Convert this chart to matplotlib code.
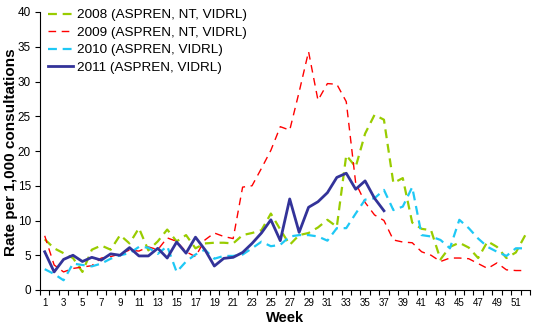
import numpy as np
import matplotlib.pyplot as plt

plt.rcParams['font.family'] = ['Liberation Sans', 'DejaVu Sans']

weeks = np.arange(1, 53)

rate_2008 = [7.3, 6.0, 5.3, 4.6, 2.6, 5.8, 6.4, 5.8, 7.9, 6.7,
             8.9, 5.7, 7.0, 8.7, 7.0, 7.9, 6.0, 6.7, 6.8, 6.8,
             6.7, 7.9, 8.2, 8.6, 11.0, 8.7, 6.5, 7.9, 8.2, 9.0,
             10.1, 9.1, 19.4, 17.7, 22.5, 25.2, 24.5, 15.4, 16.1, 9.7,
             8.8, 8.6, 4.4, 6.2, 6.8, 6.1, 4.6, 7.0, 6.2, 4.6,
             5.4, 7.9]

rate_2009 = [7.8, 3.6, 2.6, 3.1, 3.3, 3.5, 4.6, 4.8, 5.2, 5.75,
             5.6, 6.2, 5.8, 7.5, 7.0, 5.5, 4.8, 7.2, 8.2, 7.7,
             7.4, 14.8, 15.0, 17.5, 20.1, 23.5, 23.0, 28.5, 34.3, 27.3,
             29.7, 29.6, 27.1, 15.4, 12.6, 10.8, 10.0, 7.2, 6.9, 6.8,
             5.5, 5.0, 4.1, 4.6, 4.6, 4.5, 3.8, 3.1, 3.9, 2.9,
             2.8, 2.8]

rate_2010 = [3.0, 2.3, 1.4, 3.8, 3.6, 3.4, 3.8, 4.5, 5.0, 5.3,
             6.2, 6.1, 5.2, 6.3, 2.6, 4.1, 5.1, 5.8, 4.5, 4.9,
             4.9, 5.1, 6.0, 6.95, 6.3, 6.5, 7.7, 7.9, 7.9, 7.7,
             7.1, 8.9, 8.9, 11.0, 13.0, 13.2, 14.4, 11.5, 12.0, 14.8,
             7.9, 7.7, 7.2, 6.0, 10.1, 8.9, 7.4, 6.2, 5.5, 4.9,
             6.0, 6.0]

rate_2011 = [5.5, 2.6, 4.4, 5.0, 4.1, 4.7, 4.3, 5.2, 5.0, 6.1,
             4.9, 4.9, 6.0, 4.6, 6.9, 5.3, 7.6, 5.8, 3.45, 4.55,
             4.7, 5.4, 6.7, 8.2, 10.1, 7.1, 13.1, 8.3, 11.9, 12.7,
             14.0, 16.2, 16.8, 14.5, 15.7, 13.2, 11.4]

labels = ['2008 (ASPREN, NT, VIDRL)', '2009 (ASPREN, NT, VIDRL)',
          '2010 (ASPREN, VIDRL)', '2011 (ASPREN, VIDRL)']

fig = plt.figure(figsize=(5.44, 3.28), dpi=100)
ax = fig.add_axes([40 / 544, 38 / 328, 490 / 544, 278 / 328])

ax.plot(weeks, rate_2008, color='#99CC00', lw=1.6, dashes=(4, 2.6), label=labels[0])
ax.plot(weeks, rate_2009, color='#FF0000', lw=1.0, dashes=(5.5, 4), label=labels[1])
ax.plot(weeks, rate_2010, color='#1EC8F5', lw=1.6, dashes=(4, 2.6), label=labels[2])
ax.plot(weeks[:len(rate_2011)], rate_2011, color='#333399', lw=2.0, label=labels[3])

ax.set_xlim(0.5, 52.5)
ax.set_ylim(0, 40)
ax.set_yticks(range(0, 41, 5))
ax.set_xticks(np.arange(0.5, 53, 1))
ax.set_xticklabels([])
ax.set_xticks(weeks[::2], minor=True)
ax.set_xticklabels([str(w) for w in weeks[::2]], minor=True, fontsize=7)
ax.tick_params(axis='x', which='minor', length=0, pad=6)
ax.tick_params(axis='x', which='major', length=3.5, direction='out', width=0.8)
ax.tick_params(axis='y', length=3.5, width=0.8, labelsize=8.5, pad=3)

for s in ['top', 'right']:
    ax.spines[s].set_visible(False)

ax.set_xlabel('Week', fontsize=10.5, fontweight='bold', labelpad=2)
fig.text(11 / 544, 1 - 152 / 328, 'Rate per 1,000 consultations', rotation=90,
         fontsize=11, fontweight='bold', ha='center', va='center')

ax.legend(loc='upper left', bbox_to_anchor=(0.0, 1.04), frameon=False,
          fontsize=9.7, handlelength=1.85, handletextpad=0.3, labelspacing=0.38,
          borderaxespad=0.2)

fig.savefig('out.png', dpi=100)
